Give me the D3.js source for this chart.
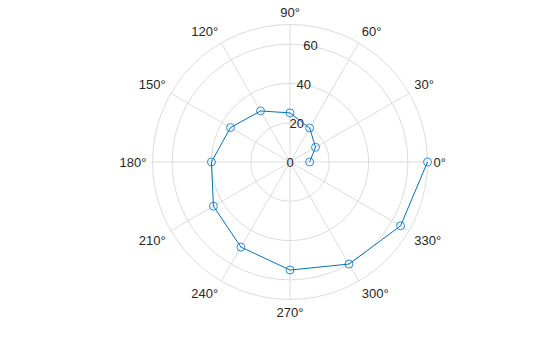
<!DOCTYPE html>
<html>
<head>
<meta charset="utf-8">
<script src="https://cdn.jsdelivr.net/npm/d3@7"></script>
<style>
body { margin: 0; background: #fff; }
text { font-family: "Liberation Sans", Arial, Helvetica, sans-serif; }
</style>
</head>
<body>
<div id="chart"></div>
<script>
// data: angle in degrees, radius
var thetaDeg = [0, 30, 60, 90, 120, 150, 180, 210, 240, 270, 300, 330, 360];
var rho = [10, 15, 20, 25, 30, 35, 40, 45, 50, 55, 60, 65, 70];
var rTicks = [0, 20, 40, 60];
var thetaTicks = [0, 30, 60, 90, 120, 150, 180, 210, 240, 270, 300, 330];
var rMax = 70;

var width = 560, height = 337;
var cx = 290, cy = 162, R = 137.5;
var gridColor = "#dcdcdc", textColor = "#262626", lineColor = "#0072BD";

var svg = d3.select("#chart")
  .append("svg")
    .attr("width", width)
    .attr("height", height);

var g = svg.append("g")
    .attr("transform", "translate(" + cx + "," + cy + ")");

var r = d3.scaleLinear().domain([0, rMax]).range([0, R]);
var rad = function(d) { return d * Math.PI / 180; };

// rings
g.selectAll(".ring")
  .data(rTicks.filter(function(d) { return d > 0; }).concat([rMax]))
  .enter().append("circle")
    .attr("r", function(d) { return r(d); })
    .attr("fill", "none")
    .attr("stroke", gridColor)
    .attr("stroke-width", 1);

// spokes
g.selectAll(".spoke")
  .data(thetaTicks)
  .enter().append("line")
    .attr("x1", 0).attr("y1", 0)
    .attr("x2", function(d) { return R * Math.cos(rad(d)); })
    .attr("y2", function(d) { return -R * Math.sin(rad(d)); })
    .attr("stroke", gridColor)
    .attr("stroke-width", 1);

// theta labels
var off = 6;
g.selectAll(".tlab")
  .data(thetaTicks)
  .enter().append("text")
    .attr("x", function(d) { return (R + off) * Math.cos(rad(d)); })
    .attr("y", function(d) { return -(R + off) * Math.sin(rad(d)); })
    .attr("text-anchor", function(d) {
      var c = Math.cos(rad(d));
      return c > 0.1 ? "start" : (c < -0.1 ? "end" : "middle");
    })
    .attr("dy", function(d) {
      var s = Math.sin(rad(d));
      return s > 0.1 ? "-0.1em" : (s < -0.1 ? "0.9em" : "0.35em");
    })
    .attr("fill", textColor)
    .attr("font-size", "13px")
    .text(function(d) { return d + "°"; });

// r tick labels along 80 deg
var rAng = rad(80);
g.selectAll(".rlab")
  .data(rTicks)
  .enter().append("text")
    .attr("x", function(d) { return r(d) * Math.cos(rAng); })
    .attr("y", function(d) { return -r(d) * Math.sin(rAng); })
    .attr("text-anchor", "middle")
    .attr("dy", "0.35em")
    .attr("fill", textColor)
    .attr("font-size", "13px")
    .text(function(d) { return d; });

// data line
var pts = thetaDeg.map(function(t, i) {
  return [r(rho[i]) * Math.cos(rad(t)), -r(rho[i]) * Math.sin(rad(t))];
});

g.append("path")
    .attr("d", d3.line()(pts))
    .attr("fill", "none")
    .attr("stroke", lineColor)
    .attr("stroke-width", 1);

g.selectAll(".mk")
  .data(pts)
  .enter().append("circle")
    .attr("cx", function(d) { return d[0]; })
    .attr("cy", function(d) { return d[1]; })
    .attr("r", 4)
    .attr("fill", "none")
    .attr("stroke", lineColor)
    .attr("stroke-width", 0.8);
</script>
</body>
</html>
